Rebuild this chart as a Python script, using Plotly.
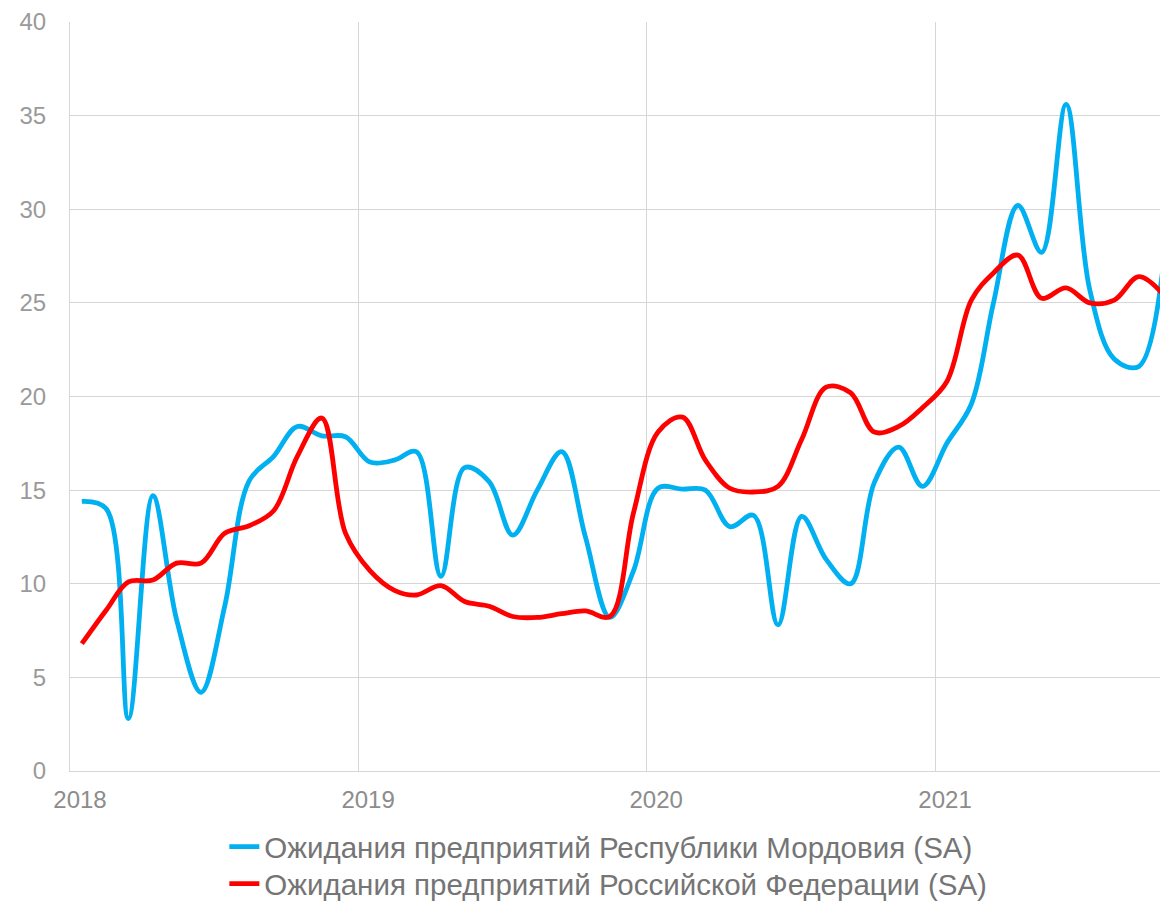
import pandas as pd
import plotly.graph_objects as go

# monthly points, Jan 2018 .. Oct 2021 (plotted mid-month)
months = pd.date_range("2018-01-01", periods=46, freq="MS") + pd.Timedelta(days=15)

mordovia = [
    14.4, 14.0, 2.8, 14.7, 8.1, 4.2, 8.8, 15.5, 16.8, 18.4,
    17.9, 17.85, 16.5, 16.6, 17.05, 10.4, 16.2, 15.45, 12.6, 15.0,
    17.05, 12.5, 8.2, 10.7, 15.1, 15.05, 15.0, 13.05, 13.65, 7.8,
    13.6, 11.3, 10.0, 15.4, 17.3, 15.2, 17.5, 19.6, 25.0, 30.2,
    27.7, 35.6, 25.7, 22.0, 21.6, 26.6,
]
russia = [
    6.8, 8.6, 10.1, 10.2, 11.1, 11.1, 12.7, 13.1, 13.9, 16.8,
    18.85, 12.7, 10.7, 9.65, 9.4, 9.9, 9.05, 8.8, 8.25, 8.2,
    8.4, 8.55, 8.25, 13.8, 18.1, 18.9, 16.6, 15.1, 14.9, 15.2,
    17.7, 20.5, 20.2, 18.1, 18.4, 19.4, 20.8, 25.15, 26.6, 27.55,
    25.25, 25.8, 25.0, 25.15, 26.4, 25.5,
]

names = [
    "Ожидания предприятий Республики Мордовия (SA)",
    "Ожидания предприятий Российской Федерации (SA)",
]
colors = ["#00B0F0", "#FF0000"]
legends = ["legend", "legend2"]

fig = go.Figure()
for vals, name, col, lg in zip([mordovia, russia], names, colors, legends):
    fig.add_trace(go.Scatter(
        x=months, y=vals, name=name, mode="lines", legend=lg,
        line=dict(color=col, width=4.8, shape="spline", smoothing=1.0),
    ))

grid = "#D6D6D6"
leg_style = dict(
    orientation="v", xref="container", yref="container",
    xanchor="left", yanchor="top", x=0.1934,
    bgcolor="rgba(0,0,0,0)",
    font=dict(size=29.5, color="#757575"),
    itemwidth=30,
)
fig.update_layout(
    width=1160, height=902,
    margin=dict(l=70, r=0, t=22, b=131, autoexpand=False),
    paper_bgcolor="white", plot_bgcolor="white",
    font=dict(family="Liberation Sans, Arial, sans-serif", color="#8C8C8C"),
    showlegend=True,
    legend=dict(leg_style, y=0.0898),
    legend2=dict(leg_style, y=0.0488),
)
fig.update_xaxes(
    range=["2018-01-01", "2021-10-13"],
    dtick="M12", tick0="2018-01-01", tickformat="%Y",
    showgrid=True, gridcolor=grid, gridwidth=1,
    showline=True, linecolor=grid, linewidth=1,
    zeroline=False, ticks="", tickangle=0,
    tickfont=dict(size=24, color="#8C8C8C"),
    ticklabelstandoff=7, ticklabelshift=10,
)
fig.update_yaxes(
    range=[0, 40], dtick=5, tick0=0,
    showgrid=True, gridcolor=grid, gridwidth=1,
    showline=True, linecolor=grid, linewidth=1,
    zeroline=False, ticks="",
    tickfont=dict(size=24, color="#9A9A9A"),
    ticklabelstandoff=18,
)

# drop the default page margin so the figure fills the window
fig.write_html(
    "out.html",
    config={"displayModeBar": False},
    post_script="document.body.style.margin='0';document.body.style.overflow='hidden';",
)
